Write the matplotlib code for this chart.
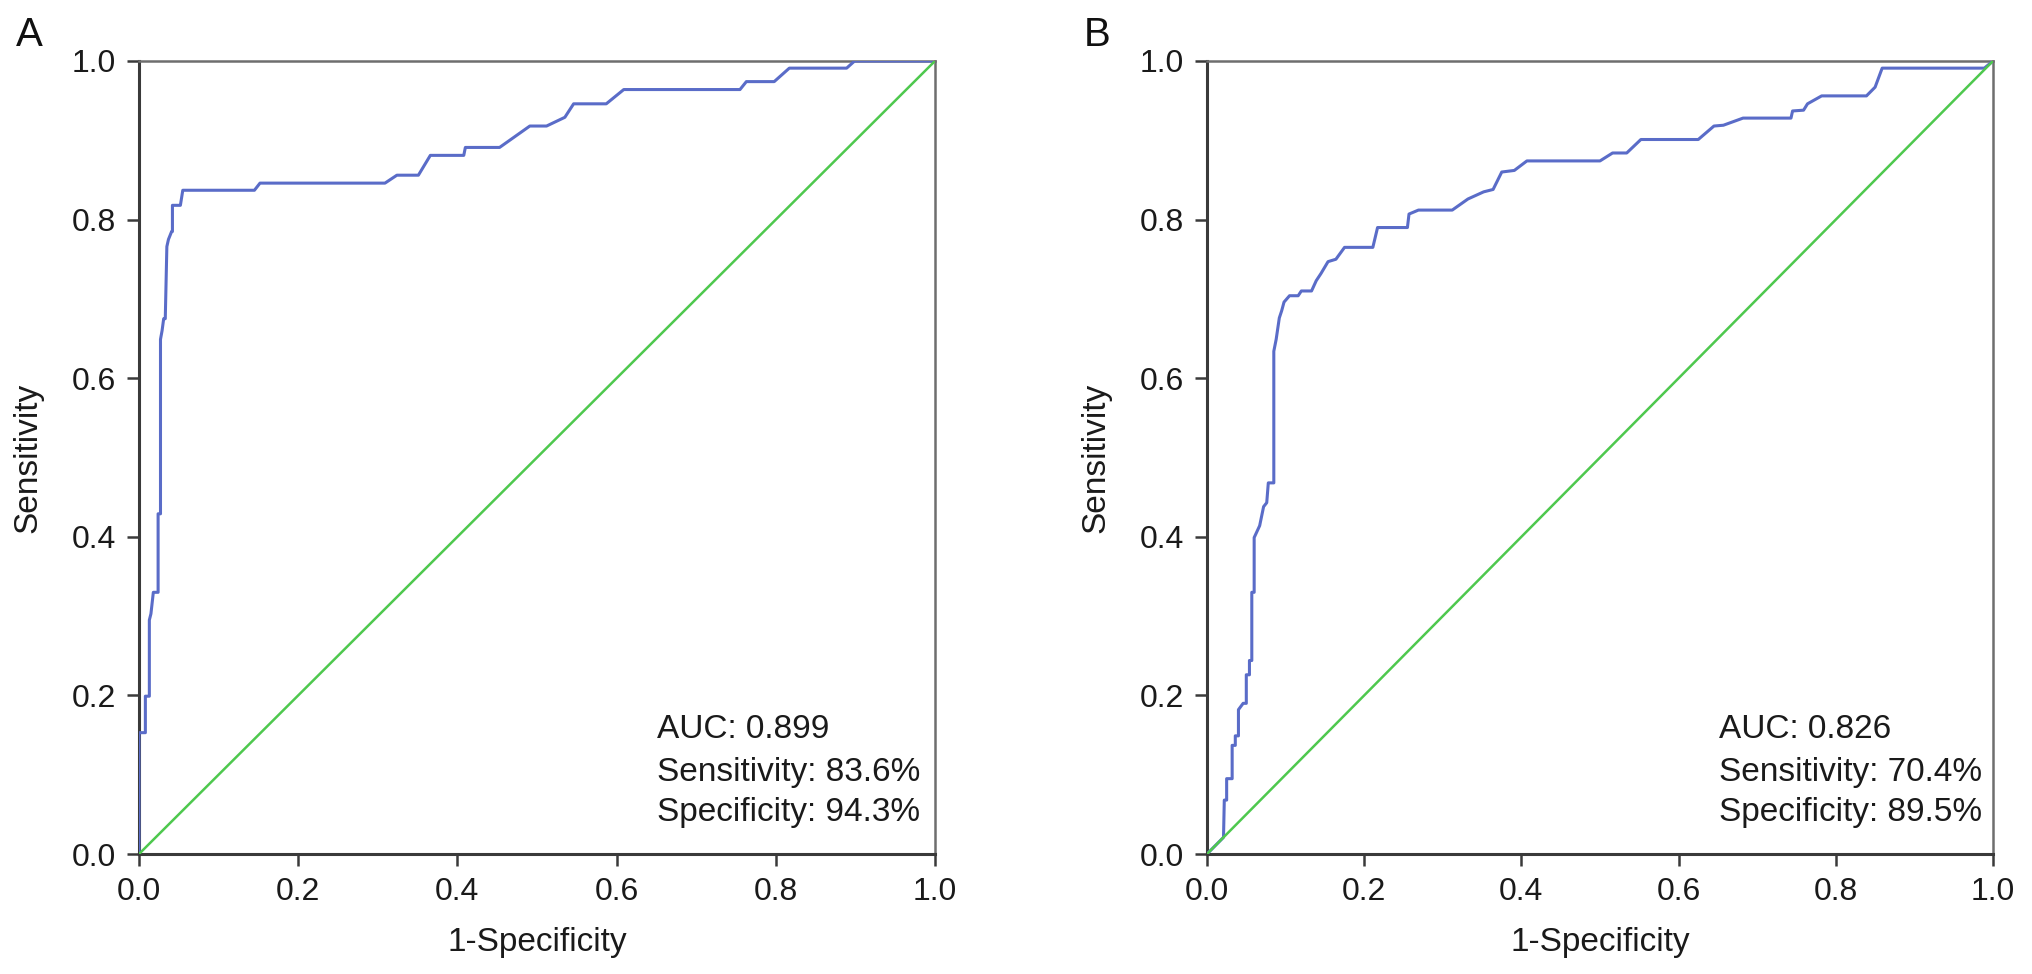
import matplotlib
matplotlib.use("Agg")
import matplotlib.pyplot as plt

plt.rcParams['font.family'] = ['Liberation Sans', 'DejaVu Sans']

# ROC curve vertices (1-specificity, sensitivity)
fpr_a = [0, 0, 0.008, 0.008, 0.013, 0.013, 0.015, 0.018, 0.024, 0.024, 0.027, 0.027,
         0.029, 0.031, 0.033, 0.035, 0.037, 0.041, 0.042, 0.042, 0.052, 0.055, 0.145,
         0.152, 0.309, 0.324, 0.351, 0.366, 0.408, 0.410, 0.453, 0.491, 0.512, 0.535,
         0.546, 0.587, 0.609, 0.755, 0.763, 0.798, 0.817, 0.889, 0.899, 1.0]
tpr_a = [0, 0.153, 0.153, 0.199, 0.199, 0.295, 0.303, 0.33, 0.33, 0.429, 0.429, 0.649,
         0.660, 0.675, 0.675, 0.766, 0.775, 0.785, 0.785, 0.818, 0.818, 0.837, 0.837,
         0.846, 0.846, 0.856, 0.856, 0.881, 0.881, 0.891, 0.891, 0.918, 0.918, 0.929,
         0.946, 0.946, 0.964, 0.964, 0.974, 0.974, 0.991, 0.991, 1.0, 1.0]

fpr_b = [0, 0.021, 0.022, 0.025, 0.025, 0.032, 0.032, 0.036, 0.036, 0.040, 0.040, 0.046,
         0.050, 0.050, 0.054, 0.054, 0.057, 0.057, 0.060, 0.060, 0.067, 0.072, 0.076,
         0.078, 0.085, 0.085, 0.088, 0.092, 0.095, 0.098, 0.105, 0.116, 0.120, 0.133,
         0.139, 0.145, 0.154, 0.164, 0.175, 0.211, 0.217, 0.255, 0.257, 0.269, 0.312,
         0.332, 0.352, 0.364, 0.375, 0.391, 0.407, 0.500, 0.516, 0.534, 0.552, 0.625,
         0.645, 0.657, 0.682, 0.743, 0.745, 0.759, 0.764, 0.782, 0.839, 0.850, 0.859,
         0.989, 1.0]
tpr_b = [0, 0.021, 0.068, 0.068, 0.095, 0.095, 0.137, 0.137, 0.149, 0.149, 0.182, 0.19,
         0.19, 0.226, 0.226, 0.244, 0.244, 0.330, 0.330, 0.399, 0.414, 0.438, 0.443,
         0.468, 0.468, 0.634, 0.649, 0.676, 0.685, 0.696, 0.704, 0.704, 0.710, 0.710,
         0.723, 0.732, 0.747, 0.750, 0.765, 0.765, 0.790, 0.790, 0.807, 0.812, 0.812,
         0.826, 0.835, 0.838, 0.860, 0.862, 0.874, 0.874, 0.884, 0.884, 0.901, 0.901,
         0.918, 0.919, 0.928, 0.928, 0.937, 0.938, 0.946, 0.956, 0.956, 0.967, 0.991,
         0.991, 1.0]

panels = ['A', 'B']
stats_a = ['AUC: 0.899', 'Sensitivity: 83.6%', 'Specificity: 94.3%']
stats_b = ['AUC: 0.826', 'Sensitivity: 70.4%', 'Specificity: 89.5%']
ticks = [0.0, 0.2, 0.4, 0.6, 0.8, 1.0]
tick_labels = ['0.0', '0.2', '0.4', '0.6', '0.8', '1.0']

W, H = 2032, 974
fig = plt.figure(figsize=(W / 100, H / 100), dpi=100)

# axes boxes in pixels: left, right
boxes = [(139, 935), (1207, 1993)]
top, bottom = 61, 854

for (l, r), name, fpr, tpr, stats in zip(boxes, panels, [fpr_a, fpr_b],
                                          [tpr_a, tpr_b], [stats_a, stats_b]):
    ax = fig.add_axes([l / W, (H - bottom) / H, (r - l) / W, (bottom - top) / H])
    ax.plot(fpr, tpr, color='#5a6cc8', lw=2.2, zorder=3)
    ax.plot([0, 1], [0, 1], color='#4ec84e', lw=1.8, zorder=4)
    ax.set_xlim(0, 1)
    ax.set_ylim(0, 1)
    ax.set_xticks(ticks)
    ax.set_xticklabels(tick_labels)
    ax.set_yticks(ticks)
    ax.set_yticklabels(tick_labels)
    ax.tick_params(direction='out', length=8.5, width=1.8, color='#3a3a3a',
                   labelsize=23, pad=8, labelcolor='#1a1a1a')
    for s in ['left', 'bottom']:
        ax.spines[s].set_color('#3a3a3a')
        ax.spines[s].set_linewidth(2.2)
    for s in ['top', 'right']:
        ax.spines[s].set_color('#6e6e6e')
        ax.spines[s].set_linewidth(1.8)

    w = r - l
    hgt = bottom - top
    ax.text(-111 / w, 0.5, 'Sensitivity', rotation=90, ha='center', va='center',
            fontsize=24, color='#1a1a1a', transform=ax.transAxes)
    ax.text(0.5, (bottom - 942) / hgt, '1-Specificity', ha='center', va='center',
            fontsize=24, color='#1a1a1a', transform=ax.transAxes)

    ys = [730, 773, 813]
    for txt, yp in zip(stats, ys):
        ax.text(0.651, (bottom - yp) / hgt, txt, ha='left', va='center',
                fontsize=24, color='#1a1a1a', transform=ax.transAxes)

    lx = 29 if name == 'A' else 1097
    fig.text(lx / W, 1 - 35 / H, name, ha='center', va='center', fontsize=29,
             color='#111111')

fig.savefig('out.png', dpi=100)
